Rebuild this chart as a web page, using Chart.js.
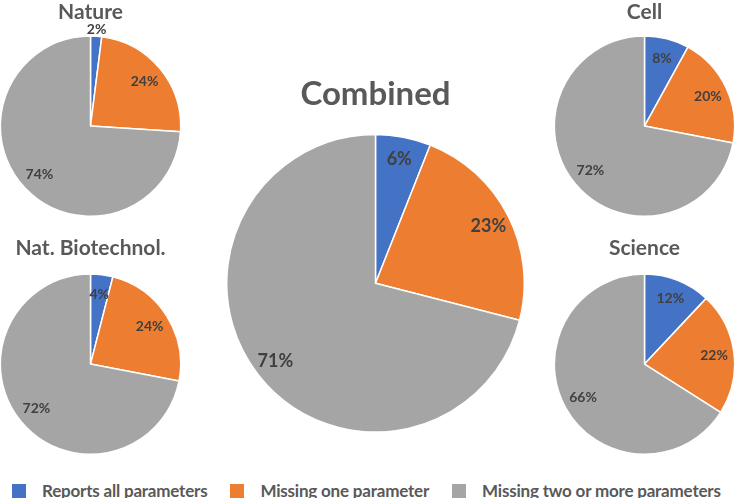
<!DOCTYPE html>
<html>
<head>
<meta charset="utf-8">
<script src="https://cdn.jsdelivr.net/npm/chart.js@4.4.1/dist/chart.umd.min.js"></script>
<style>
    html, body { margin: 0; padding: 0; background: #fff; }
    #wrap { position: relative; width: 735px; height: 498px; overflow: hidden; }
    .pie { position: absolute; }
    #legend {
        position: absolute; left: 12px; top: 480px; display: flex; align-items: center;
        font-family: Lato, sans-serif; font-weight: 700; font-size: 17px; letter-spacing: -0.2px;
        color: #595959; white-space: nowrap;
    }
    .item { display: flex; align-items: center; margin-right: 23px; }
    .box { width: 14px; height: 14px; margin-right: 16px; }
</style>
</head>
<body>
<div id="wrap">
    <div class="pie" style="left:-1px; top:0px; width:183px; height:217px;"><canvas id="natureChart"></canvas></div>
    <div class="pie" style="left:553px; top:0px; width:183px; height:217px;"><canvas id="cellChart"></canvas></div>
    <div class="pie" style="left:-1px; top:236px; width:183px; height:219px;"><canvas id="biotechChart"></canvas></div>
    <div class="pie" style="left:553px; top:236px; width:183px; height:219px;"><canvas id="scienceChart"></canvas></div>
    <div class="pie" style="left:226px; top:75px; width:299px; height:358px;"><canvas id="combinedChart"></canvas></div>
    <div id="legend"></div>
</div>
<script>
// Categories and per-journal percentages
const categories = ['Reports all parameters', 'Missing one parameter', 'Missing two or more parameters'];
const natureValues = [2, 24, 74];
const cellValues = [8, 20, 72];
const biotechValues = [4, 24, 72];
const scienceValues = [12, 22, 66];
const combinedValues = [6, 23, 71];

const sliceColors = ['#4472C4', '#ED7D31', '#A5A5A5'];

// Draws the percentage labels inside each slice
const sliceLabels = {
    id: 'sliceLabels',
    afterDatasetsDraw(chart, args, opts) {
        const ctx = chart.ctx;
        const meta = chart.getDatasetMeta(0);
        const values = chart.data.datasets[0].data;
        ctx.save();
        ctx.font = 'bold ' + opts.size + 'px Lato, sans-serif';
        ctx.fillStyle = '#404040';
        ctx.textAlign = 'center';
        ctx.textBaseline = 'middle';
        meta.data.forEach((arc, i) => {
            const mid = (arc.startAngle + arc.endAngle) / 2;
            let r = arc.outerRadius - opts.inset;
            if (values[i] < 3) r = arc.outerRadius + 7;
            ctx.fillText(values[i] + '%', arc.x + Math.cos(mid) * r, arc.y + Math.sin(mid) * r);
        });
        ctx.restore();
    }
};

function makePie(id, title, values, titleSize, padBottom, labelSize, inset) {
    const ctx = document.getElementById(id).getContext('2d');
    return new Chart(ctx, {
        type: 'pie',
        data: {
            labels: categories,
            datasets: [{
                data: values,
                backgroundColor: sliceColors,
                borderColor: '#ffffff',
                borderWidth: 1.5
            }]
        },
        options: {
            responsive: true,
            maintainAspectRatio: false,
            animation: false,
            layout: { padding: 0 },
            plugins: {
                legend: { display: false },
                tooltip: { enabled: false },
                title: {
                    display: true,
                    text: title,
                    color: '#595959',
                    font: { family: 'Lato, sans-serif', size: titleSize, weight: 'bold', lineHeight: 1.2 },
                    padding: { top: 0, bottom: padBottom }
                },
                sliceLabels: { size: labelSize, inset: inset }
            }
        },
        plugins: [sliceLabels]
    });
}

makePie('natureChart', 'Nature', natureValues, 21, 10, 14, 20);
makePie('cellChart', 'Cell', cellValues, 21, 10, 14, 20);
makePie('biotechChart', 'Nat. Biotechnol.', biotechValues, 21, 12, 14, 20);
makePie('scienceChart', 'Science', scienceValues, 21, 12, 14, 20);
makePie('combinedChart', 'Combined', combinedValues, 33, 19, 18, 22);

// Legend built from the same categories
const legend = document.getElementById('legend');
categories.forEach((name, i) => {
    const item = document.createElement('div');
    item.className = 'item';
    item.innerHTML = '<span class="box" style="background:' + sliceColors[i] + '"></span><span>' + name + '</span>';
    legend.appendChild(item);
});
</script>
</body>
</html>
